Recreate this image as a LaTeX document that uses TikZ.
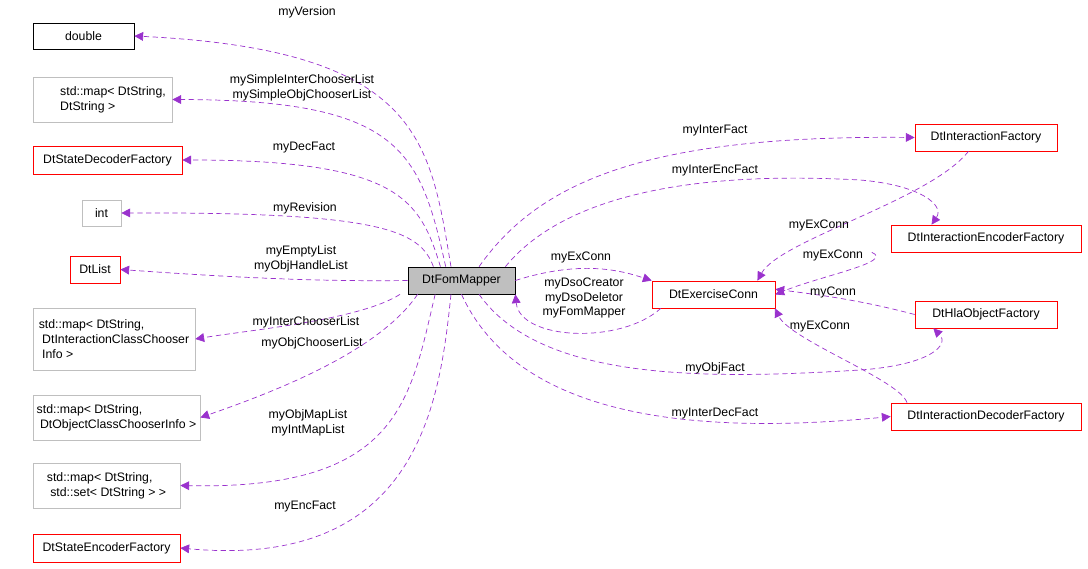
\documentclass[tikz,border=0pt]{standalone}
\usepackage{fontspec}
\setmainfont{Liberation Sans}
\usetikzlibrary{arrows.meta}
\definecolor{edgecol}{HTML}{9A32CD}
\definecolor{boxred}{HTML}{FF0000}
\definecolor{boxgray}{HTML}{BFBFBF}
\tikzset{
  cls/.style={draw, inner sep=0pt, font=\fontsize{7}{8.5}\selectfont, align=left, fill=white},
  redcls/.style={cls, draw=boxred},
  graycls/.style={cls, draw=boxgray},
  uses/.style={draw=edgecol, dash pattern=on 3pt off 2pt, -{Triangle[length=5pt,width=5pt]}, edgecol},
  lbl/.style={font=\fontsize{7}{8.5}\selectfont, align=center, inner sep=0pt}
}
\begin{document}
\begin{tikzpicture}[x=0.02cm, y=-0.02cm]
  \useasboundingbox (0,0) rectangle (1088,568);

  % left column
  \node[cls, minimum width=101*0.02cm, minimum height=26*0.02cm] (dbl) at (83.5,36) {double};
  \node[graycls, minimum width=139*0.02cm, minimum height=45*0.02cm] (mapA) at (102.5,99.5) {\hspace{12pt}std::map< DtString,\\\hspace{12pt}DtString >};
  \node[redcls, minimum width=149*0.02cm, minimum height=28*0.02cm] (decf) at (107.5,160) {DtStateDecoderFactory};
  \node[graycls, minimum width=39*0.02cm, minimum height=26*0.02cm] (int) at (101.5,213) {int};
  \node[redcls, minimum width=50*0.02cm, minimum height=27*0.02cm] (lst) at (95,269.5) {DtList};
  \node[graycls, minimum width=162*0.02cm, minimum height=62*0.02cm] (mapB) at (114,339) {std::map< DtString,\\\ DtInteractionClassChooser\\\ Info >};
  \node[graycls, minimum width=167*0.02cm, minimum height=45*0.02cm] (mapC) at (116.5,417.5) {std::map< DtString,\\\ DtObjectClassChooserInfo >};
  \node[graycls, minimum width=147*0.02cm, minimum height=45*0.02cm] (mapD) at (106.5,485.5) {std::map< DtString,\\\ std::set< DtString > >};
  \node[redcls, minimum width=147*0.02cm, minimum height=28*0.02cm] (encf) at (106.5,548) {DtStateEncoderFactory};

  % centre
  \node[cls, fill=boxgray, minimum width=107*0.02cm, minimum height=27*0.02cm] (fm) at (461.5,280.5) {DtFomMapper};
  \node[redcls, minimum width=123*0.02cm, minimum height=27*0.02cm] (exc) at (713.5,294.5) {DtExerciseConn};

  % right column
  \node[redcls, minimum width=142*0.02cm, minimum height=27*0.02cm] (ifac) at (986,137.5) {DtInteractionFactory};
  \node[redcls, minimum width=190*0.02cm, minimum height=27*0.02cm] (ienc) at (986,238.5) {DtInteractionEncoderFactory};
  \node[redcls, minimum width=142*0.02cm, minimum height=27*0.02cm] (hla) at (986,314.5) {DtHlaObjectFactory};
  \node[redcls, minimum width=190*0.02cm, minimum height=27*0.02cm] (idec) at (986,416.5) {DtInteractionDecoderFactory};

  % edges to the left
  \draw[uses] ([xshift=-6]fm.north) .. controls (430,140) and (420,50) .. (dbl.east);
  \draw[uses] ([xshift=-9]fm.north) .. controls (420,150) and (400,100) .. (mapA.east);
  \draw[uses] ([xshift=-12]fm.north) .. controls (420,200) and (400,160) .. (decf.east);
  \draw[uses] ([xshift=-16]fm.north) .. controls (420,230) and (380,212) .. (int.east);
  \draw[uses] (fm.west) .. controls (300,282) and (200,275) .. (lst.east);
  \draw[uses] ([xshift=-35]fm.south) .. controls (360,320) and (250,330) .. (mapB.east);
  \draw[uses] ([xshift=-25]fm.south) .. controls (380,350) and (280,390) .. (mapC.east);
  \draw[uses] ([xshift=-15]fm.south) .. controls (410,400) and (400,490) .. (mapD.east);
  \draw[uses] ([xshift=-6]fm.south) .. controls (440,400) and (420,570) .. (encf.east);

  % edges to the right
  \draw[uses] ([xshift=10]fm.north) .. controls (540,180) and (650,135) .. (ifac.west);
  \draw[uses] ([xshift=25]fm.north) .. controls (560,200) and (680,170) .. (860,180) .. controls (920,185) and (945,205) .. ([xshift=-31]ienc.north);
  \draw[uses] (fm.east) .. controls (580,260) and (620,270) .. (exc.north west);
  \draw[uses] ([xshift=-30]exc.south) .. controls (620,345) and (520,340) .. (fm.south east);
  \draw[uses] ([xshift=10]fm.south) .. controls (540,380) and (700,380) .. (860,370) .. controls (930,365) and (950,345) .. ([xshift=-30]hla.south);
  \draw[uses] (fm.south) .. controls (510,400) and (650,440) .. (idec.west);
  \draw[uses] ([xshift=-10]ifac.south) .. controls (930,200) and (780,240) .. ([xshift=25]exc.north);
  \draw[uses] ([xshift=-65]ienc.south) .. controls (895,262) and (820,276) .. (exc.east);
  \draw[uses] (hla.west) .. controls (860,300) and (820,295) .. ([yshift=3]exc.east);
  \draw[uses] ([xshift=-45]idec.north) .. controls (900,380) and (790,340) .. ([xshift=35]exc.south);

  % labels
  \node[lbl] (l1) at (307,12) {myVersion};
  \node[lbl] (l2) at (302,88) {mySimpleInterChooserList\\mySimpleObjChooserList};
  \node[lbl] (l3) at (304,148) {myDecFact};
  \node[lbl] (l4) at (305,208) {myRevision};
  \node[lbl] (l5) at (301,259) {myEmptyList\\myObjHandleList};
  \node[lbl] (l6) at (306,322) {myInterChooserList};
  \node[lbl] (l7) at (312,343) {myObjChooserList};
  \node[lbl] (l8) at (308,423) {myObjMapList\\myIntMapList};
  \node[lbl] (l9) at (305,507) {myEncFact};
  \node[lbl] (l10) at (715,131) {myInterFact};
  \node[lbl] (l11) at (715,171) {myInterEncFact};
  \node[lbl] (l12) at (581,257) {myExConn};
  \node[lbl] (l13) at (584,298) {myDsoCreator\\myDsoDeletor\\myFomMapper};
  \node[lbl] (l14) at (715,368) {myObjFact};
  \node[lbl] (l15) at (715,414) {myInterDecFact};
  \node[lbl] (l16) at (819,225) {myExConn};
  \node[lbl] (l17) at (833,255) {myExConn};
  \node[lbl] (l18) at (833,292) {myConn};
  \node[lbl] (l19) at (820,326) {myExConn};
\end{tikzpicture}
\end{document}
